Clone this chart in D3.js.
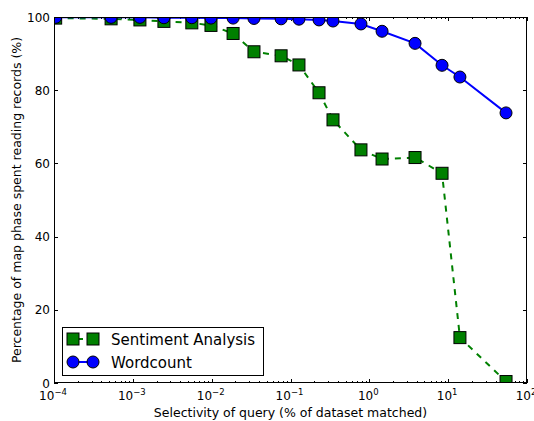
<!DOCTYPE html>
<html>
<head>
<meta charset="utf-8">
<script src="https://cdn.jsdelivr.net/npm/d3@7"></script>
<style>
body { margin: 0; background: #fff; overflow: hidden; }
svg { display: block; }
text { font-family: "DejaVu Sans", sans-serif; }
</style>
</head>
<body>
<script>
// data
var selectivity = [1.05e-4, 5.3e-4, 1.23e-3, 2.48e-3, 5.6e-3, 9.8e-3, 1.87e-2, 3.44e-2, 7.6e-2,
                   0.128, 0.230, 0.346, 0.783, 1.45, 3.80, 8.36, 14.1, 54.2];
var sentiment = [99.7, 99.5, 99.2, 98.8, 98.4, 97.7, 95.5, 90.5, 89.4,
                 86.9, 79.3, 71.9, 63.7, 61.2, 61.6, 57.3, 12.4, 0.4];
var wordcount = [99.9, 99.9, 99.9, 99.8, 99.8, 99.7, 99.7, 99.6, 99.5,
                 99.4, 99.2, 98.9, 98.1, 96.1, 92.8, 86.8, 83.6, 73.8];
var xTickExp = [-4, -3, -2, -1, 0, 1, 2];
var yTicks = [0, 20, 40, 60, 80, 100];
var seriesNames = ["Sentiment Analysis", "Wordcount"];

var W = 534, H = 421;
var pLeft = 54, pRight = 527, pTop = 17, pBottom = 383;

var svg = d3.select("body").append("svg")
    .attr("width", W).attr("height", H);

var x = d3.scaleLog().domain([1e-4, 1e2]).range([pLeft, pRight]);
var y = d3.scaleLinear().domain([0, 100]).range([pBottom, pTop]);

svg.append("defs").append("clipPath").attr("id", "clip")
  .append("rect").attr("x", pLeft).attr("y", pTop)
  .attr("width", pRight - pLeft).attr("height", pBottom - pTop);

// minor ticks (log)
var minors = [];
for (var e = -4; e < 2; e++) {
  for (var m = 2; m <= 9; m++) minors.push(m * Math.pow(10, e));
}
var ticks = svg.append("g").attr("stroke", "#000").attr("stroke-width", 1);
minors.forEach(function (v) {
  var px = Math.round(x(v)) + 0.5;
  ticks.append("line").attr("x1", px).attr("x2", px).attr("y1", pBottom).attr("y2", pBottom - 2);
  ticks.append("line").attr("x1", px).attr("x2", px).attr("y1", pTop).attr("y2", pTop + 2);
});
xTickExp.forEach(function (e) {
  var px = Math.round(x(Math.pow(10, e))) + 0.5;
  ticks.append("line").attr("x1", px).attr("x2", px).attr("y1", pBottom).attr("y2", pBottom - 4);
  ticks.append("line").attr("x1", px).attr("x2", px).attr("y1", pTop).attr("y2", pTop + 4);
});
yTicks.forEach(function (v) {
  var py = Math.round(y(v)) + 0.5;
  ticks.append("line").attr("x1", pLeft).attr("x2", pLeft + 4).attr("y1", py).attr("y2", py);
  ticks.append("line").attr("x1", pRight).attr("x2", pRight - 4).attr("y1", py).attr("y2", py);
});

// tick labels
var xl = svg.append("g").attr("font-size", 12).attr("text-anchor", "middle");
xTickExp.forEach(function (e) {
  var t = xl.append("text").attr("x", x(Math.pow(10, e)) - 1).attr("y", 400);
  t.append("tspan").text("10");
  t.append("tspan").attr("font-size", 8.5).attr("dy", -5).text(String(e).replace("-", "\u2212"));
});
var yl = svg.append("g").attr("font-size", 12).attr("text-anchor", "end");
yTicks.forEach(function (v) {
  yl.append("text").attr("x", 50).attr("y", y(v) + 4.5).text(v);
});

// lines and markers
var plot = svg.append("g").attr("clip-path", "url(#clip)");
var line = d3.line().x(function (d) { return x(d[0]); }).y(function (d) { return y(d[1]); });
var sData = d3.zip(selectivity, sentiment);
var wData = d3.zip(selectivity, wordcount);

plot.append("path").datum(sData).attr("d", line)
  .attr("fill", "none").attr("stroke", "#008000").attr("stroke-width", 2)
  .attr("stroke-dasharray", "6,6");
plot.selectAll("rect.s").data(sData).enter().append("rect")
  .attr("x", function (d) { return x(d[0]) - 6; })
  .attr("y", function (d) { return y(d[1]) - 6; })
  .attr("width", 12).attr("height", 12)
  .attr("fill", "#008000").attr("stroke", "#000").attr("stroke-width", 1);

plot.append("path").datum(wData).attr("d", line)
  .attr("fill", "none").attr("stroke", "#0000ff").attr("stroke-width", 2);
plot.selectAll("circle.w").data(wData).enter().append("circle")
  .attr("cx", function (d) { return x(d[0]); })
  .attr("cy", function (d) { return y(d[1]); })
  .attr("r", 6)
  .attr("fill", "#0000ff").attr("stroke", "#000").attr("stroke-width", 1);

// frame
svg.append("rect").attr("x", pLeft + 0.5).attr("y", pTop + 0.5)
  .attr("width", pRight - pLeft - 1).attr("height", pBottom - pTop - 1)
  .attr("fill", "none").attr("stroke", "#000").attr("stroke-width", 1);

// legend
var lg = svg.append("g");
lg.append("rect").attr("x", 62.5).attr("y", 327.5).attr("width", 201).attr("height", 48)
  .attr("fill", "#fff").attr("stroke", "#000").attr("stroke-width", 1);
var rows = [339, 362];
var mk = [73, 93];
lg.append("line").attr("x1", mk[0]).attr("x2", mk[1]).attr("y1", rows[0]).attr("y2", rows[0])
  .attr("stroke", "#008000").attr("stroke-width", 2).attr("stroke-dasharray", "6,6").attr("stroke-dashoffset", -4);
mk.forEach(function (cx) {
  lg.append("rect").attr("x", cx - 6).attr("y", rows[0] - 6).attr("width", 12).attr("height", 12)
    .attr("fill", "#008000").attr("stroke", "#000");
});
lg.append("line").attr("x1", mk[0]).attr("x2", mk[1]).attr("y1", rows[1]).attr("y2", rows[1])
  .attr("stroke", "#0000ff").attr("stroke-width", 2);
mk.forEach(function (cx) {
  lg.append("circle").attr("cx", cx).attr("cy", rows[1]).attr("r", 6)
    .attr("fill", "#0000ff").attr("stroke", "#000");
});
seriesNames.forEach(function (n, i) {
  lg.append("text").attr("x", 111).attr("y", rows[i] + 5.5).attr("font-size", 15).text(n);
});

// axis titles
svg.append("text").attr("x", (pLeft + pRight) / 2).attr("y", 417).attr("text-anchor", "middle")
  .attr("font-size", 12.5).text("Selectivity of query (% of dataset matched)");
svg.append("text").attr("transform", "translate(21," + ((pTop + pBottom) / 2) + ") rotate(-90)")
  .attr("text-anchor", "middle").attr("font-size", 12.5)
  .text("Percentage of map phase spent reading records (%)");
</script>
</body>
</html>
